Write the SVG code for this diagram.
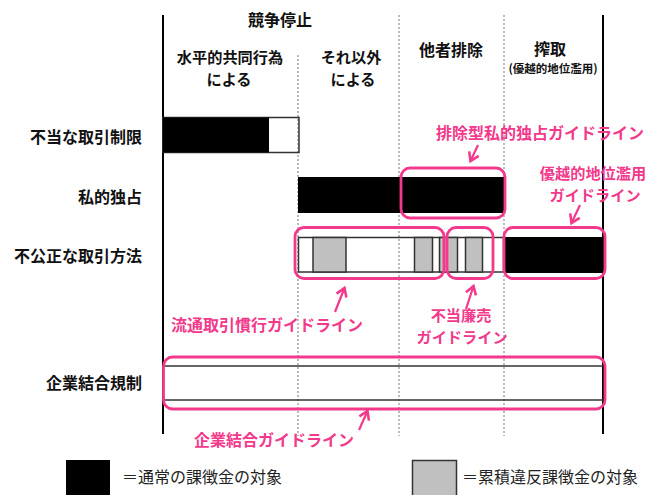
<svg xmlns="http://www.w3.org/2000/svg" width="657" height="495" viewBox="0 0 657 495">
<style>
text{font-family:"Noto Sans CJK JP","Noto Sans CJK SC",sans-serif;}
.h{font-size:16px;font-weight:bold;fill:#111;text-anchor:middle;}
.h2{font-size:15.2px;font-weight:bold;fill:#111;text-anchor:middle;}
.r{font-size:16px;font-weight:bold;fill:#111;text-anchor:end;}
.p{font-size:16px;font-weight:bold;fill:#F2398B;text-anchor:middle;}
.p2{font-size:15.2px;font-weight:bold;fill:#F2398B;text-anchor:middle;}
.lg{font-size:16px;fill:#222;}
.axis{stroke:#000;stroke-width:2;}
.dot{stroke:#777;stroke-width:1;stroke-dasharray:2,2;}
.bar{stroke:#333;stroke-width:1.5;}
.blk{fill:#000;}
.gry{fill:#c0c0c0;}
.pk{fill:none;stroke:#F2398B;stroke-width:2.8;}
.arr{fill:none;stroke:#F2398B;stroke-width:2.2;marker-end:url(#ah);}
</style>
<defs>
<marker id="ah" markerUnits="userSpaceOnUse" markerWidth="14" markerHeight="14" viewBox="-8 -6 10 12" refX="0" refY="0" orient="auto">
<path d="M-7,-4.5 L0,0 L-7,4.5" fill="none" stroke="#F2398B" stroke-width="2.2"/>
</marker>
</defs>
<rect width="657" height="495" fill="#fff"/>
<g id="grid">
<line class="dot" x1="298" y1="55" x2="298" y2="436"/>
<line class="dot" x1="399" y1="15" x2="399" y2="436"/>
<line class="dot" x1="504" y1="15" x2="504" y2="436"/>
<line class="axis" x1="163" y1="15" x2="163" y2="434"/>
<line class="axis" x1="603" y1="15" x2="603" y2="434"/>
</g>
<g id="headers">
<text class="h" x="280" y="26">競争停止</text>
<text class="h2" x="230" y="62.5">水平的共同行為</text>
<text class="h2" x="229" y="84.5">による</text>
<text class="h2" x="351" y="62.5">それ以外</text>
<text class="h2" x="353" y="84.5">による</text>
<text class="h" x="451" y="56">他者排除</text>
<text class="h" x="550" y="54.5">搾取</text>
<text class="h" x="553" y="72.5" style="font-size:11.5px">(優越的地位濫用)</text>
</g>
<g id="row-labels">
<text class="r" x="142" y="143">不当な取引制限</text>
<text class="r" x="142" y="203">私的独占</text>
<text class="r" x="142" y="262">不公正な取引方法</text>
<text class="r" x="142" y="389">企業結合規制</text>
</g>
<g id="row1">
<rect class="bar" x="163" y="117.5" width="136" height="35" fill="none"/>
<rect class="blk" x="163" y="117.5" width="106" height="35"/>
</g>
<g id="row2">
<rect class="blk" x="298" y="177" width="206" height="36"/>
</g>
<g id="row3">
<rect class="bar" x="298.5" y="237.5" width="205" height="34.5" fill="none"/>
<rect class="bar gry" x="313" y="237.5" width="33" height="34.5"/>
<rect class="bar gry" x="414.5" y="237.5" width="18" height="34.5"/>
<rect class="bar gry" x="439.5" y="237.5" width="18" height="34.5"/>
<rect class="bar gry" x="465.5" y="237.5" width="17" height="34.5"/>
<rect class="blk" x="504" y="237" width="99" height="36"/>
</g>
<g id="row4">
<line class="bar" x1="163" y1="366" x2="603" y2="366"/>
<line class="bar" x1="163" y1="400" x2="603" y2="400"/>
</g>
<g id="highlights">
<rect class="pk" x="401" y="168" width="104" height="50" rx="9"/>
<rect class="pk" x="295" y="227.5" width="149" height="51" rx="9"/>
<rect class="pk" x="447" y="227.5" width="46" height="51" rx="9"/>
<rect class="pk" x="504" y="227.5" width="101" height="51" rx="9"/>
<rect class="pk" x="163.5" y="357" width="441.5" height="52" rx="9"/>
</g>
<g id="connectors">
<line class="arr" x1="478" y1="145" x2="470.5" y2="161"/>
<line class="arr" x1="580" y1="205" x2="571.5" y2="223"/>
<line class="arr" x1="335" y1="312" x2="344.5" y2="288"/>
<line class="arr" x1="466" y1="309" x2="473.5" y2="286"/>
<line class="arr" x1="359" y1="430" x2="367.5" y2="411"/>
</g>
<g id="guideline-labels">
<text class="p" x="540" y="139">排除型私的独占ガイドライン</text>
<text class="p2" x="593" y="179">優越的地位濫用</text>
<text class="p2" x="595" y="201">ガイドライン</text>
<text class="p" x="267" y="331">流通取引慣行ガイドライン</text>
<text class="p2" x="461" y="320.5">不当廉売</text>
<text class="p2" x="462" y="342.5">ガイドライン</text>
<text class="p" x="274" y="446">企業結合ガイドライン</text>
</g>
<g id="legend">
<rect class="blk" x="66" y="460" width="44" height="36"/>
<text class="lg" x="122" y="483">＝通常の課徴金の対象</text>
<rect class="bar gry" x="412.5" y="460.5" width="44" height="36"/>
<text class="lg" x="462" y="483">＝累積違反課徴金の対象</text>
</g>
</svg>
